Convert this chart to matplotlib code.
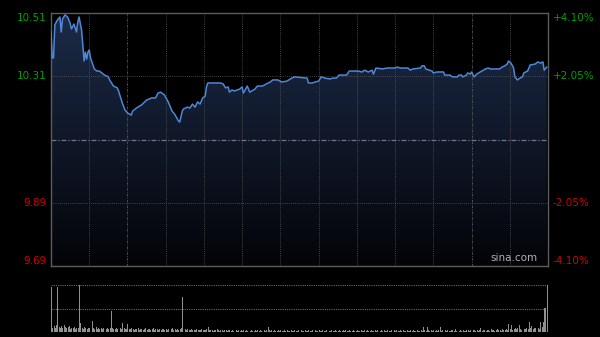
import matplotlib
matplotlib.use('Agg')

import numpy as np
import matplotlib.pyplot as plt
from matplotlib.colors import LinearSegmentedColormap

# intraday price, minutes since open (390 minute session)
minutes = [0, 1, 2, 3, 5, 7, 8, 9, 11, 13, 15, 16, 18, 20, 21, 22, 24, 25, 26, 27,
           28, 29, 30, 31, 34, 36, 38, 42, 45, 46, 49, 52, 53, 56, 58, 60, 63, 64, 67, 71,
           75, 79, 82, 84, 86, 89, 92, 95, 97, 100, 101, 103, 104, 107, 109, 111, 113, 115, 117, 119,
           121, 122, 123, 126, 133, 135, 137, 139, 140, 142, 144, 146, 148, 150, 151, 154, 156, 160, 162, 166,
           169, 172, 174, 178, 181, 185, 189, 191, 201, 202, 205, 207, 210, 212, 215, 219, 221, 224, 226, 232,
           234, 239, 241, 244, 246, 249, 252, 253, 255, 260, 264, 270, 272, 274, 280, 282, 284, 290, 291, 293,
           294, 299, 300, 303, 308, 309, 313, 315, 319, 320, 322, 323, 326, 327, 329, 330, 332, 334, 338, 341,
           343, 345, 352, 354, 356, 358, 359, 361, 363, 364, 366, 368, 370, 371, 374, 376, 380, 382, 384, 386,
           387, 389]
prices = [10.452, 10.367, 10.367, 10.475, 10.491, 10.501, 10.452, 10.494, 10.508, 10.501,
          10.481, 10.462, 10.478, 10.452, 10.485, 10.501, 10.458, 10.406, 10.357, 10.386,
          10.363, 10.386, 10.393, 10.367, 10.331, 10.324, 10.324, 10.311, 10.305, 10.295,
          10.275, 10.269, 10.259, 10.219, 10.197, 10.187, 10.180, 10.193, 10.203, 10.213,
          10.229, 10.236, 10.236, 10.252, 10.255, 10.246, 10.223, 10.193, 10.183, 10.161,
          10.157, 10.193, 10.200, 10.206, 10.203, 10.216, 10.206, 10.223, 10.216, 10.236,
          10.242, 10.272, 10.285, 10.285, 10.285, 10.282, 10.269, 10.272, 10.255, 10.262,
          10.259, 10.262, 10.265, 10.272, 10.252, 10.275, 10.255, 10.265, 10.275, 10.275,
          10.282, 10.288, 10.295, 10.295, 10.288, 10.291, 10.301, 10.305, 10.301, 10.285,
          10.285, 10.288, 10.291, 10.305, 10.301, 10.298, 10.301, 10.301, 10.311, 10.311,
          10.324, 10.324, 10.324, 10.321, 10.327, 10.321, 10.327, 10.314, 10.334, 10.331,
          10.334, 10.334, 10.337, 10.334, 10.334, 10.327, 10.331, 10.334, 10.341, 10.341,
          10.331, 10.324, 10.318, 10.321, 10.321, 10.311, 10.311, 10.305, 10.305, 10.311,
          10.311, 10.305, 10.311, 10.318, 10.314, 10.321, 10.305, 10.314, 10.324, 10.331,
          10.334, 10.331, 10.331, 10.337, 10.341, 10.347, 10.357, 10.350, 10.334, 10.305,
          10.295, 10.301, 10.305, 10.318, 10.324, 10.344, 10.347, 10.354, 10.350, 10.354,
          10.327, 10.337]

# per-minute volume (relative units)
volume = [
    96, 9, 12, 8, 15, 96, 10, 8, 13, 9, 14, 11, 8, 10, 12, 7, 9, 8, 11, 7, 8, 9, 100, 20, 9, 7, 10, 8, 6, 9,
    8, 7, 23, 9, 7, 10, 6, 8, 7, 9, 6, 8, 7, 6, 9, 7, 8, 45, 9, 7, 6, 8, 7, 6, 9, 7, 19, 8, 6, 7,
    17, 7, 6, 8, 6, 5, 7, 6, 9, 5, 6, 7, 5, 6, 8, 5, 7, 6, 5, 6, 8, 5, 6, 7, 5, 6, 5, 7, 6, 5,
    6, 5, 7, 23, 6, 9, 5, 6, 5, 7, 5, 6, 8, 74, 19, 7, 5, 6, 5, 4, 6, 5, 4, 5, 6, 4, 5, 4, 6, 5,
    4, 5, 6, 11, 4, 5, 4, 3, 5, 4, 6, 4, 3, 4, 5, 3, 4, 4, 3, 5, 4, 3, 4, 3, 5, 4, 3, 4, 3, 4,
    3, 4, 3, 5, 3, 4, 3, 4, 3, 3, 4, 3, 5, 3, 4, 3, 3, 4, 3, 4, 11, 4, 3, 5, 3, 4, 3, 3, 4, 3,
    4, 3, 3, 4, 3, 5, 3, 3, 4, 3, 3, 4, 3, 3, 4, 3, 5, 3, 3, 4, 3, 3, 4, 3, 3, 4, 3, 5, 3, 3,
    4, 3, 3, 4, 3, 3, 4, 5, 3, 3, 4, 3, 3, 4, 3, 3, 4, 3, 3, 4, 3, 5, 3, 3, 4, 3, 3, 4, 3, 3,
    4, 3, 3, 4, 3, 3, 5, 3, 4, 3, 3, 4, 3, 3, 4, 3, 5, 3, 3, 4, 3, 4, 3, 3, 4, 3, 3, 4, 3, 4,
    3, 4, 3, 3, 5, 3, 4, 3, 3, 4, 3, 3, 4, 3, 5, 3, 3, 4, 3, 3, 4, 3, 11, 4, 3, 11, 4, 3, 5, 3,
    4, 3, 5, 3, 4, 11, 3, 4, 3, 5, 3, 4, 3, 3, 5, 4, 3, 6, 3, 4, 3, 5, 3, 4, 3, 3, 4, 5, 3, 4,
    3, 4, 5, 3, 4, 3, 4, 8, 3, 4, 5, 3, 4, 5, 3, 6, 4, 5, 3, 4, 6, 4, 5, 3, 6, 4, 5, 7, 4, 17,
    6, 15, 5, 7, 9, 6, 8, 15, 6, 5, 8, 6, 7, 9, 6, 21, 8, 13, 7, 9, 8, 21, 9, 7, 21, 10, 21, 51, 51, 100,
]

prev_close = 10.10
pct_limit = 4.10
left_labels = ['10.51', '10.31', '10.10', '9.89', '9.69']
right_labels = ['+4.10%', '+2.05%', '', '-2.05%', '-4.10%']

GREEN = '#00a000'
RED = '#d00000'
GRID = '#585858'

y_top = prev_close * (1 + pct_limit / 100)
y_bot = prev_close * (1 - pct_limit / 100)
levels = np.linspace(y_top, y_bot, 5)

fig = plt.figure(figsize=(6, 3.37), dpi=100, facecolor='black')
ax = fig.add_axes([51 / 600, 1 - 266 / 337, 497 / 600, 253 / 337], facecolor='black')
axv = fig.add_axes([51 / 600, 1 - 332 / 337, 497 / 600, 47 / 337], facecolor='black')

ax.set_xlim(0, 390)
ax.set_ylim(y_bot, y_top)

# gradient fill under price line
poly = ax.fill_between(minutes, prices, y_bot, color='none', lw=0)
cmap = LinearSegmentedColormap.from_list('fade', ['#030408', '#1c2b48'])
grad = np.linspace(0, 1, 256).reshape(-1, 1)
img = ax.imshow(grad, cmap=cmap, aspect='auto', origin='lower',
                extent=[0, 390, y_bot, y_top], zorder=1)
img.set_clip_path(poly.get_paths()[0], transform=ax.transData)

# grid drawn over the fill
for m in range(30, 390, 30):
    style = (0, (1, 1.5)) if m not in (60, 330) else (0, (3, 1.5, 1, 1.5))
    ax.axvline(m, color=GRID, lw=0.6, ls=style, zorder=2)
for lv in (levels[1], levels[3]):
    ax.axhline(lv, color=GRID, lw=0.6, ls=(0, (1, 1.5)), zorder=2)
ax.axhline(prev_close, color='#6c7686', lw=0.9, ls=(0, (4, 1.5, 1, 1.5)), zorder=2)

ax.plot(minutes, prices, color='#4f86d6', lw=1.1, zorder=3)

for s in ax.spines.values():
    s.set_color('#5c5c5c')
    s.set_linewidth(1)
ax.set_xticks([])
ax.set_yticks([])

# price and percent labels
tr = ax.get_yaxis_transform()
for i, (lv, ll, rl) in enumerate(zip(levels, left_labels, right_labels)):
    if i == 2:
        continue
    col = GREEN if i < 2 else RED
    va = 'top' if i == 0 else ('bottom' if i == 4 else 'center')
    ax.text(-0.008, lv, ll, transform=tr, ha='right', va=va, color=col, fontsize=7.5)
    ax.text(1.01, lv, rl, transform=tr, ha='left', va=va, color=col, fontsize=7.5)

ax.text(0.978, 0.03, 'sina.com', transform=ax.transAxes, ha='right', va='center',
        color='#b0b0b0', fontsize=7.5, zorder=4)

# volume panel
vx = np.arange(len(volume))
axv.bar(vx, volume, width=0.75, color='#909090', lw=0, align='edge')
axv.set_xlim(0, 390)
axv.set_ylim(0, 100)
for lv in (100, 50):
    axv.axhline(lv, color='#6a6a6a', lw=0.8, ls=(0, (1, 1)), zorder=0)
axv.axhline(0, color='#6a6a6a', lw=0.8, zorder=0)
for s in axv.spines.values():
    s.set_visible(False)
axv.set_xticks([])
axv.set_yticks([])

fig.savefig('out.png', dpi=100, facecolor='black')
plt.close(fig)
